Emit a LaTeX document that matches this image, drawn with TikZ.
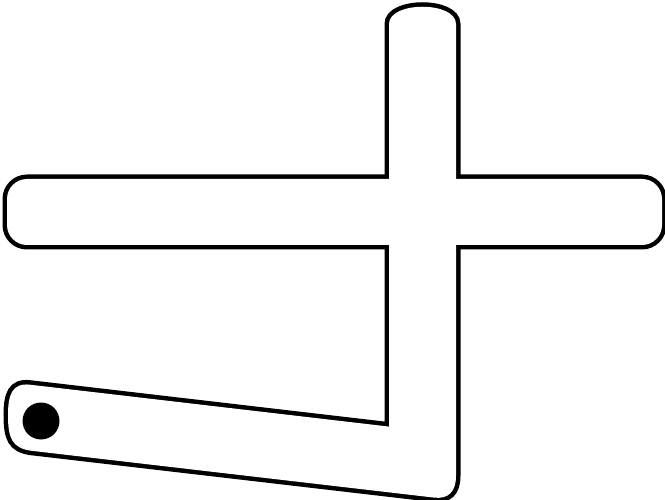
\documentclass[tikz,border=0pt]{standalone}
\begin{document}
\begin{tikzpicture}[x=1pt,y=-1pt,
  outline/.style={line width=9pt,draw=black},
  inner/.style={fill=white,draw=none}]
\useasboundingbox (0,0) rectangle (665,500);
% shapes
\def\lshape{(389,426.6) -- (30,384.7) .. controls (12,382.6) and (8,395) .. (8,415) .. controls (8,438) and (12,447.5) .. (30,450.6) -- (434,497.6) .. controls (448,499.3) and (456,492) .. (456,476) -- (456,24) .. controls (456,1) and (389,1) .. (389,24) -- cycle}
\def\hbar{[rounded corners=20] (7,179) rectangle (662,245)}
\path[outline] \lshape;
\path[outline] \hbar;
\path[inner] \lshape;
\path[inner] \hbar;
\fill[black] (41,421) circle (18.5);
\end{tikzpicture}
\end{document}
